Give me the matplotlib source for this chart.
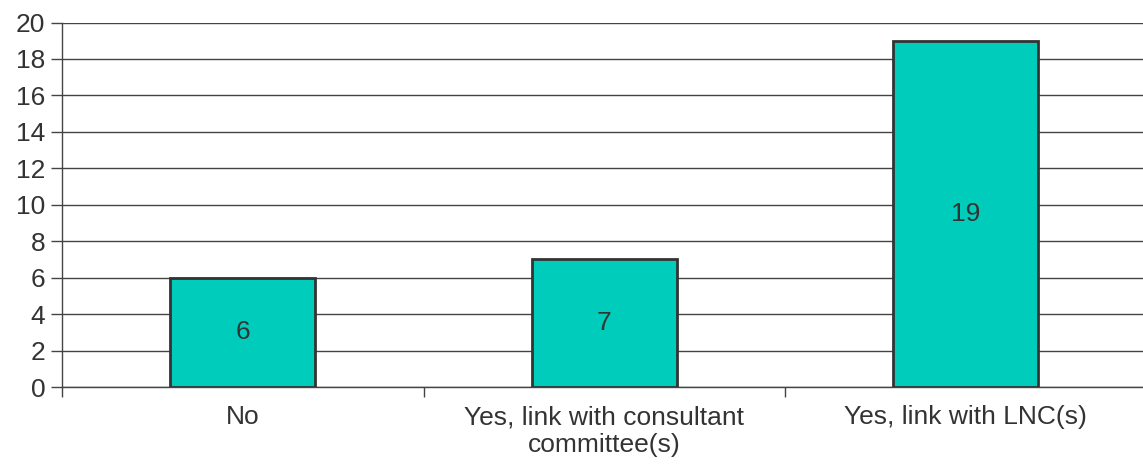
import matplotlib
matplotlib.use("Agg")
import matplotlib.pyplot as plt
import numpy as np

categories = ["No", "Yes, link with consultant\ncommittee(s)", "Yes, link with LNC(s)"]
values = [6, 7, 19]
yticks = [0, 2, 4, 6, 8, 10, 12, 14, 16, 18, 20]

plt.rcParams['font.family'] = ['Liberation Sans', 'DejaVu Sans']
W, H = 1143, 465
fig = plt.figure(figsize=(W / 100, H / 100), dpi=100)
ax = fig.add_axes([62 / W, 78 / H, 1084.5 / W, 364.5 / H])

text_color = '#333333'
fs = 19
x = np.arange(len(categories))
ax.set_axisbelow(True)
ax.yaxis.grid(True, color='#444444', linewidth=1.0)
bars = ax.bar(x, values, width=0.4, color='#00CCBB', edgecolor='#333333', linewidth=2, zorder=3)
for xi, v in zip(x, values):
    ax.text(xi, v / 2, str(v), ha='center', va='center', fontsize=fs, color=text_color, zorder=4)

ax.set_xlim(-0.5, len(categories) - 0.5)
ax.set_ylim(0, 20)
ax.set_yticks(yticks)
ax.set_yticklabels([str(t) for t in yticks])
ax.set_xticks(x)
ax.set_xticklabels(categories, fontsize=fs, color=text_color, linespacing=1.2)
ax.tick_params(axis='x', length=0, pad=13)
ax.set_xticks(np.arange(len(categories) + 1) - 0.5, minor=True)
ax.tick_params(axis='x', which='minor', length=7, width=1, color='#444444')
ax.tick_params(axis='y', length=8, width=1, color='#444444', labelsize=fs, labelcolor=text_color, pad=4)

for s in ['top', 'right']:
    ax.spines[s].set_visible(False)
ax.spines['left'].set_color('#444444')
ax.spines['left'].set_linewidth(1)
ax.spines['bottom'].set_color('#444444')
ax.spines['bottom'].set_linewidth(1)

fig.savefig('out.png', dpi=100)
